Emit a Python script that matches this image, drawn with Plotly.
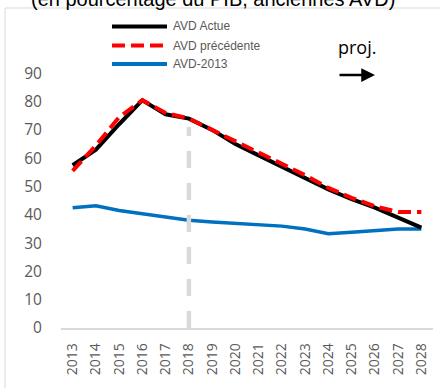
import plotly.graph_objects as go

# Years on the category axis
years = [str(y) for y in range(2013, 2029)]

# Public debt ratios (% of GDP)
avd_actue = [57.5, 63.0, 72.0, 80.5, 75.5, 74.0, 70.0, 65.0, 61.0, 57.0, 53.0, 49.0, 45.5, 42.5, 39.0, 35.5]
avd_precedente = [55.5, 64.5, 74.5, 80.5, 76.0, 74.0, 70.0, 66.0, 62.0, 58.0, 54.0, 49.5, 46.0, 43.0, 41.0, 41.0]
avd_2013 = [42.5, 43.2, 41.5, 40.3, 39.2, 38.1, 37.5, 37.0, 36.5, 36.0, 35.0, 33.3, 33.8, 34.4, 35.0, 35.0]

y_ticks = [0, 10, 20, 30, 40, 50, 60, 70, 80, 90]
proj_start = "2018"
proj_top = 71

W, H = 440, 388
ML, MR, MT, MB = 61, 7, 45, 60
PW, PH = W - ML - MR, H - MT - MB


def px(x):
    return (x - ML) / PW


def py(y):
    return (H - MB - y) / PH


fig = go.Figure()

fig.add_trace(go.Scatter(x=years, y=avd_2013, mode="lines", name="AVD-2013",
                         line=dict(color="#0070c0", width=3.5)))
fig.add_trace(go.Scatter(x=years, y=avd_actue, mode="lines", name="AVD Actue",
                         line=dict(color="#000000", width=4)))
fig.add_trace(go.Scatter(x=years, y=avd_precedente, mode="lines", name="AVD précédente",
                         line=dict(color="#ff0000", width=4, dash="13px,6px")))

# Projection start marker
fig.add_trace(go.Scatter(
    x=[proj_start, proj_start], y=[0, proj_top], mode="lines",
    line=dict(color="#d9d9d9", width=4.5, dash="17px,15px"),
    showlegend=False, hoverinfo="skip"))

shapes = [
    # outer frame
    dict(type="rect", xref="paper", yref="paper", x0=px(5), x1=px(445), y0=py(400), y1=py(8),
         line=dict(color="#d9d9d9", width=1), fillcolor="rgba(0,0,0,0)", layer="below"),
]

# Legend drawn inside the plot
legend_rows = [
    ("AVD Actue", "#000000", "solid", 26.5),
    ("AVD précédente", "#ff0000", "13px,6px", 45.5),
    ("AVD-2013", "#0070c0", "solid", 64),
]
annotations = []
for label, color, dash, yy in legend_rows:
    shapes.append(dict(type="line", xref="paper", yref="paper", x0=px(112), x1=px(167),
                       y0=py(yy), y1=py(yy), line=dict(color=color, width=4, dash=dash)))
    annotations.append(dict(xref="paper", yref="paper", x=px(171), y=py(yy), text=label,
                            showarrow=False, xanchor="left", yanchor="middle",
                            font=dict(family="Liberation Sans", size=12, color="#595959")))

annotations += [
    dict(xref="paper", yref="paper", x=px(213), y=py(-1), text="(en pourcentage du PIB, anciennes AVD)",
         showarrow=False, xanchor="center", yanchor="middle",
         font=dict(family="Liberation Sans", size=20, color="#000000")),
    dict(xref="paper", yref="paper", x=px(357), y=py(47), text="proj.",
         showarrow=False, xanchor="center", yanchor="middle",
         font=dict(family="Open Sans", size=18, color="#000000")),
    dict(xref="paper", yref="paper", x=px(375), y=py(75), text="",
         showarrow=True, axref="pixel", ayref="pixel", ax=-37, ay=0,
         arrowhead=2, arrowsize=1.1, arrowwidth=2.5, arrowcolor="#000000"),
]

fig.update_layout(
    width=W, height=H,
    margin=dict(l=ML, r=MR, t=MT, b=MB, pad=0),
    paper_bgcolor="white", plot_bgcolor="white",
    showlegend=False,
    shapes=shapes, annotations=annotations,
    xaxis=dict(type="category", categoryorder="array", categoryarray=years,
               range=[-0.5, 15.5], tickangle=-90,
               showline=True, linecolor="#d9d9d9", linewidth=1.5,
               showgrid=False, zeroline=False,
               ticks="outside", ticklen=8, tickcolor="rgba(0,0,0,0)",
               tickfont=dict(family="Open Sans", size=14, color="#595959")),
    yaxis=dict(range=[0, 100], tickvals=y_ticks, showgrid=False, zeroline=False,
               showline=False, ticks="outside", ticklen=15, tickcolor="rgba(0,0,0,0)",
               tickfont=dict(family="Open Sans", size=15.5, color="#595959")),
)

fig.write_html("out.html")
